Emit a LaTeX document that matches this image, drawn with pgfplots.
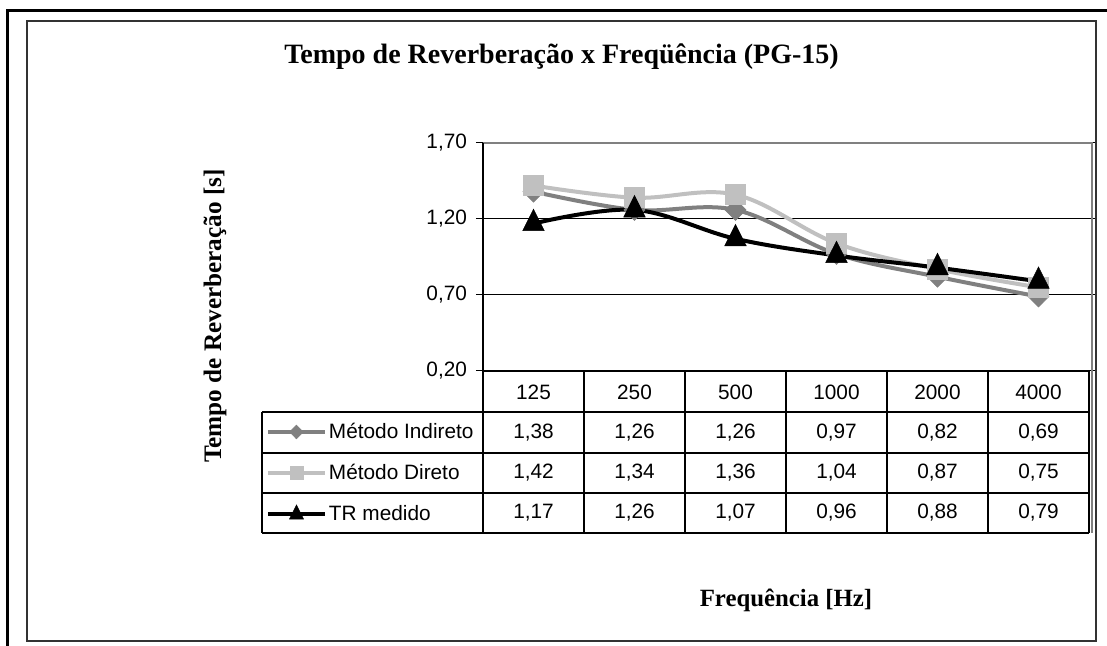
\documentclass[border=0pt]{standalone}
\usepackage{pgfplots}
\pgfplotsset{compat=1.18}
\usepackage{pgfplotstable}
\usepackage{fontspec}
\setmainfont{Liberation Serif}
\newfontfamily\arial{Liberation Sans}
\definecolor{indir}{HTML}{808080}
\definecolor{dirc}{HTML}{C0C0C0}
\pgfplotstableread{
x ind dir tr
1 1.38 1.42 1.17
2 1.26 1.34 1.26
3 1.26 1.36 1.07
4 0.97 1.04 0.96
5 0.82 0.87 0.88
6 0.69 0.75 0.79
}\datatab
\newcommand\af{\arial\fontsize{10.4bp}{12bp}\selectfont}
\pgfkeys{/pgf/number format/.cd, fixed, fixed zerofill, precision=2, use comma, assume math mode=true}
\tikzset{px/.style={shift={(O)}, yscale=-1, shift={(-483,-371)}}}
\begin{document}
\begin{tikzpicture}[x=0.5bp,y=0.5bp]
\begin{axis}[scale only axis,
  width=303bp, height=114bp,
  xmin=0.5, xmax=6.5, ymin=0.2, ymax=1.7,
  ytick={0.2,0.7,1.2,1.7}, xtick={1,...,6},
  xticklabels={125,250,500,1000,2000,4000},
  axis line style={draw=none},
  ymajorgrids, grid style={black, line width=0.5bp},
  tick align=outside, major tick length=3.5bp,
  ytick style={black, line width=0.5bp}, xtick style={draw=none},
  tick label style={font=\af},
  yticklabel style={xshift=-1bp},
  xticklabel style={anchor=center, yshift=-7bp},
  clip=false,
  legend cell align=left,
  legend style={at={(axis description cs:-0.3581,-0.1798)}, anchor=north west,
    draw=none, fill=none, inner sep=0pt, outer sep=0pt, row sep=0.6bp, column sep=1bp,
    font=\af, nodes={inner sep=0pt, minimum height=20bp}},
  legend image code/.code={
    \draw[mark repeat=2, mark phase=2, #1, /tikz/every mark/.append style={scale=0.65}]
      plot coordinates {(0bp,0bp) (14.25bp,0bp) (28.5bp,0bp)};
  },
]
\addplot[indir, line width=2bp, smooth, tension=0.6, mark=diamond*, mark size=5.25bp,
  mark options={xscale=1.33, line width=0.3bp}] table[x=x, y=ind]{\datatab};
\addlegendentry{Método Indireto}
\addplot[dirc, line width=2bp, smooth, tension=0.6, mark=square*, mark size=5bp,
  mark options={line width=0.3bp}] table[x=x, y=dir]{\datatab};
\addlegendentry{Método Direto}
\addplot[black, line width=2bp, smooth, tension=0.6, mark=triangle*, mark size=6.2bp,
  mark options={yscale=1.15, line width=0.3bp}] table[x=x, y=tr]{\datatab};
\addlegendentry{TR medido}
\coordinate (O) at (axis cs:0.5,0.2);
\end{axis}
\begin{scope}[px]
\draw[line width=1.5bp] (8,650) -- (8,11) -- (1110,11);
\draw[line width=0.9bp, black!80] (27,21) rectangle (1096,641);
\node[font=\bfseries\fontsize{14bp}{16bp}\selectfont] at (561.5,57) {Tempo de Reverberação x Freqüência (PG-15)};
\node[font=\bfseries\fontsize{12.6bp}{14bp}\selectfont, rotate=90] at (215,316) {Tempo de Reverberação [s]};
\node[font=\bfseries\fontsize{12.4bp}{14bp}\selectfont] at (786,600) {Frequência [Hz]};
% plot area border (gray)
\draw[indir, line width=0.6bp] (483,143) -- (1092,143) -- (1092,533);
% table lines
\draw[line width=0.6bp] (483,143) -- (483,533);
\foreach \yy in {412,453,493,533} {\draw[line width=0.6bp] (262,\yy) -- (1089,\yy);}
\draw[line width=0.6bp] (483,371) -- (1089,371);
\foreach \xx in {584,685,786,887,988,1089} {\draw[line width=0.6bp] (\xx,371) -- (\xx,533);}
\draw[line width=0.6bp] (262,412) -- (262,533);
% table values
\foreach \r in {0,...,5} {
  \pgfmathsetmacro\xx{533.5+101*\r}
  \pgfplotstablegetelem{\r}{ind}\of\datatab \let\va\pgfplotsretval
  \node[font=\af] at (\xx,432.5) {\pgfmathprintnumber{\va}};
  \pgfplotstablegetelem{\r}{dir}\of\datatab \let\vb\pgfplotsretval
  \node[font=\af] at (\xx,473) {\pgfmathprintnumber{\vb}};
  \pgfplotstablegetelem{\r}{tr}\of\datatab \let\vc\pgfplotsretval
  \node[font=\af] at (\xx,513) {\pgfmathprintnumber{\vc}};
}
\end{scope}
\pgfresetboundingbox
\path[px, use as bounding box] (0,0) rectangle (1107,646);
\end{tikzpicture}
\end{document}
